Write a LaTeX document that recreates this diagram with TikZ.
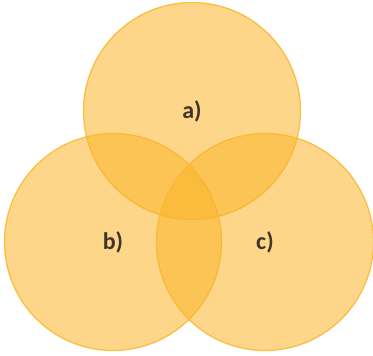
\documentclass[tikz,border=0pt]{standalone}
\usepackage{fontspec}
\setmainfont{Carlito}
\usepackage{xcolor}
\definecolor{setfill}{RGB}{251,180,42}
\definecolor{setline}{RGB}{250,184,48}
\definecolor{settext}{RGB}{62,54,40}

\begin{document}
\begin{tikzpicture}[x=1pt,y=1pt,
      set/.style={circle,draw=setline,line width=1.3pt,draw opacity=0.85,fill=setfill,fill opacity=0.55,text opacity=1,
        minimum size=217pt,inner sep=0pt,text=settext,font=\fontsize{24}{28}\bfseries\selectfont}
    ]
      \useasboundingbox (0,0) rectangle (373,356);
      \node[set] (a) at (192,245) {a)};
      \node[set] (b) at (113,114) {b)};
      \node[set] (c) at (265,114) {c)};
    \end{tikzpicture}
\end{document}
